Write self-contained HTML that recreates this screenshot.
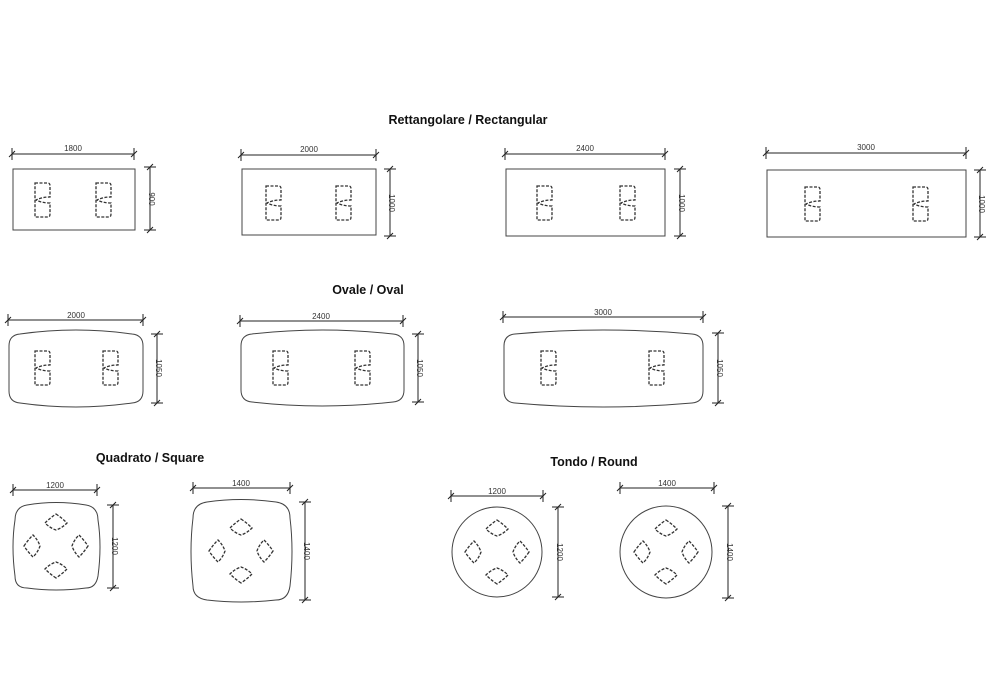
<!DOCTYPE html>
<html><head><meta charset="utf-8"><style>
html,body{margin:0;padding:0;background:#fff;}
svg{display:block;}
text{font-family:"Liberation Sans",sans-serif;}
.t{font-weight:bold;font-size:12.5px;fill:#111;}
.d{font-size:8px;fill:#333;}
</style></head><body>
<svg width="1000" height="700" viewBox="0 0 1000 700" xmlns="http://www.w3.org/2000/svg">
<defs>
<path id="sv" d="M-7,-17 H6 Q8,-17 8,-14 V-3 Q0,-3 -6,0 Q0,3 8,3 V14 Q8,17 6,17 H-7 Z" fill="none" stroke="#333" stroke-width="1.3" stroke-dasharray="3,1.5"/>
<path id="sd" d="M0,-9 Q6,-5 11,0 Q6,5 0,7 Q-6,5 -11,0 Q-6,-5 0,-9 Z" fill="none" stroke="#333" stroke-width="1.3" stroke-dasharray="3,1.5"/>
<g id="quad">
<use href="#sd" transform="translate(0,-23)"/>
<use href="#sd" transform="translate(0,23) rotate(180)"/>
<use href="#sd" transform="translate(-23,0) rotate(-90)"/>
<use href="#sd" transform="translate(23,0) rotate(90)"/>
</g>
</defs>
<g stroke="#444" stroke-width="1" fill="none">
<rect x="13" y="169" width="122" height="61"/>
<rect x="242" y="169" width="134" height="66"/>
<rect x="506" y="169" width="159" height="67"/>
<rect x="767" y="170" width="199" height="67"/>
<path d="M20,334 Q76,326 132,334 Q143,335 143,346 V391 Q143,402 132,403 Q76,411 20,403 Q9,402 9,391 V346 Q9,335 20,334 Z"/>
<path d="M252,334 Q322,326 393,334 Q404,335 404,346 V390 Q404,401 393,402 Q322,410 252,402 Q241,401 241,390 V346 Q241,335 252,334 Z"/>
<path d="M515,334 Q603,326 692,334 Q703,335 703,346 V391 Q703,402 692,403 Q603,411 515,403 Q504,402 504,391 V346 Q504,335 515,334 Z"/>
<path d="M27,505 Q56,500 86,505 Q98,507 98,520 Q102,546 98,576 Q96,588 86,588 Q56,592 27,588 Q15,588 15,576 Q11,546 15,520 Q15,507 27,505 Z"/>
<path d="M207,502 Q241,497 276,502 Q290,504 290,518 Q294,551 290,586 Q288,600 276,600 Q241,604 207,600 Q193,598 193,586 Q189,551 193,518 Q193,504 207,502 Z"/>
<circle cx="497" cy="552" r="45"/>
<circle cx="666" cy="552" r="46"/>
<g stroke="#222">
<path d="M12,154 H134 M12,148 V160 M134,148 V160 M9,157 L15,151 M131,157 L137,151"/>
<path d="M150,167 V230 M144,167 H156 M144,230 H156 M147,170 L153,164 M147,233 L153,227"/>
<path d="M241,155 H376 M241,149 V161 M376,149 V161 M238,158 L244,152 M373,158 L379,152"/>
<path d="M390,169 V236 M384,169 H396 M384,236 H396 M387,172 L393,166 M387,239 L393,233"/>
<path d="M505,154 H665 M505,148 V160 M665,148 V160 M502,157 L508,151 M662,157 L668,151"/>
<path d="M680,169 V236 M674,169 H686 M674,236 H686 M677,172 L683,166 M677,239 L683,233"/>
<path d="M766,153 H966 M766,147 V159 M966,147 V159 M763,156 L769,150 M963,156 L969,150"/>
<path d="M980,170 V237 M974,170 H986 M974,237 H986 M977,173 L983,167 M977,240 L983,234"/>
<path d="M8,320 H143 M8,314 V326 M143,314 V326 M5,323 L11,317 M140,323 L146,317"/>
<path d="M157,334 V403 M151,334 H163 M151,403 H163 M154,337 L160,331 M154,406 L160,400"/>
<path d="M240,321 H403 M240,315 V327 M403,315 V327 M237,324 L243,318 M400,324 L406,318"/>
<path d="M418,334 V402 M412,334 H424 M412,402 H424 M415,337 L421,331 M415,405 L421,399"/>
<path d="M503,317 H703 M503,311 V323 M703,311 V323 M500,320 L506,314 M700,320 L706,314"/>
<path d="M718,333 V403 M712,333 H724 M712,403 H724 M715,336 L721,330 M715,406 L721,400"/>
<path d="M13,490 H97 M13,484 V496 M97,484 V496 M10,493 L16,487 M94,493 L100,487"/>
<path d="M113,505 V588 M107,505 H119 M107,588 H119 M110,508 L116,502 M110,591 L116,585"/>
<path d="M193,488 H290 M193,482 V494 M290,482 V494 M190,491 L196,485 M287,491 L293,485"/>
<path d="M305,502 V600 M299,502 H311 M299,600 H311 M302,505 L308,499 M302,603 L308,597"/>
<path d="M451,496 H543 M451,490 V502 M543,490 V502 M448,499 L454,493 M540,499 L546,493"/>
<path d="M558,507 V597 M552,507 H564 M552,597 H564 M555,510 L561,504 M555,600 L561,594"/>
<path d="M620,488 H714 M620,482 V494 M714,482 V494 M617,491 L623,485 M711,491 L717,485"/>
<path d="M728,506 V598 M722,506 H734 M722,598 H734 M725,509 L731,503 M725,601 L731,595"/>
</g>
</g>
<use href="#sv" x="42" y="200"/><use href="#sv" x="103" y="200"/>
<use href="#sv" x="273" y="203"/><use href="#sv" x="343" y="203"/>
<use href="#sv" x="544" y="203"/><use href="#sv" x="627" y="203"/>
<use href="#sv" x="812" y="204"/><use href="#sv" x="920" y="204"/>
<use href="#sv" x="42" y="368"/><use href="#sv" x="110" y="368"/>
<use href="#sv" x="280" y="368"/><use href="#sv" x="362" y="368"/>
<use href="#sv" x="548" y="368"/><use href="#sv" x="656" y="368"/>
<use href="#quad" x="56" y="546"/>
<use href="#quad" x="241" y="551"/>
<use href="#quad" x="497" y="552"/>
<use href="#quad" x="666" y="552"/>
<text class="t" x="468" y="124" text-anchor="middle">Rettangolare / Rectangular</text>
<text class="t" x="368" y="294" text-anchor="middle">Ovale / Oval</text>
<text class="t" x="150" y="462" text-anchor="middle">Quadrato / Square</text>
<text class="t" x="594" y="466" text-anchor="middle">Tondo / Round</text>
<g class="d" text-anchor="middle">
<text x="73" y="151">1800</text>
<text x="309" y="152">2000</text>
<text x="585" y="151">2400</text>
<text x="866" y="150">3000</text>
<text x="76" y="318">2000</text>
<text x="321" y="319">2400</text>
<text x="603" y="315">3000</text>
<text x="55" y="488">1200</text>
<text x="241" y="486">1400</text>
<text x="497" y="494">1200</text>
<text x="667" y="486">1400</text>
<text transform="translate(149,199) rotate(90)">900</text>
<text transform="translate(389,203) rotate(90)">1000</text>
<text transform="translate(679,203) rotate(90)">1000</text>
<text transform="translate(979,204) rotate(90)">1000</text>
<text transform="translate(156,368) rotate(90)">1050</text>
<text transform="translate(417,368) rotate(90)">1050</text>
<text transform="translate(717,368) rotate(90)">1050</text>
<text transform="translate(112,546) rotate(90)">1200</text>
<text transform="translate(304,551) rotate(90)">1400</text>
<text transform="translate(557,552) rotate(90)">1200</text>
<text transform="translate(727,552) rotate(90)">1400</text>
</g>
</svg>
</body></html>
